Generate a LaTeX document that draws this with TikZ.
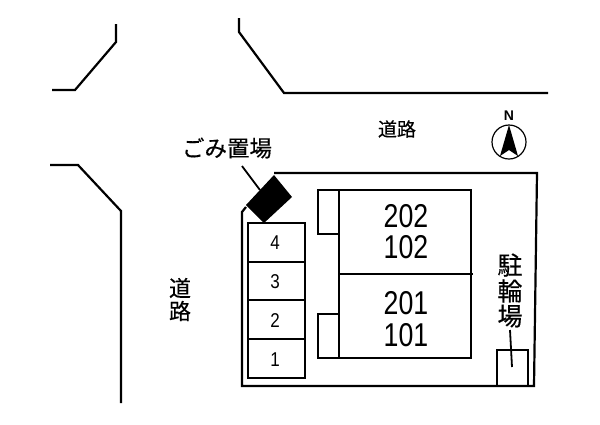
\documentclass[tikz,border=0pt]{standalone}
\usepackage{fontspec}
\setmainfont{Liberation Sans}
\newfontfamily\cjk[FakeBold=0.4]{Noto Sans CJK JP}
\tikzset{
  plan/.style={draw=black,line width=2.2pt,line join=miter},
  thin plan/.style={draw=black,line width=1.8pt},
  lab/.style={inner sep=0pt,text=black},
  unitlab/.style={lab,font=\fontsize{33}{33}\selectfont,xscale=0.81},
  parklab/.style={lab,font=\fontsize{20}{20}\selectfont,xscale=0.85},
  cjklab/.style={lab,font=\cjk\fontsize{#1}{#1}\selectfont},
}
\begin{document}
\begin{tikzpicture}[x=1pt,y=-1pt]
\useasboundingbox (0,0) rectangle (600,424);
% roads
\draw[plan] (116,24) -- (116,42) -- (75,90) -- (52,90);
\draw[plan] (239,18) -- (239,32) -- (284,93) -- (548,93);
\draw[plan] (50,165) -- (78,165) -- (121,211) -- (121,403);
% site boundary
\draw[plan] (246,207) -- (242,212) -- (242,386) -- (534,386) -- (537,173) -- (274,173);
% building
\draw[plan] (339,190) rectangle (471,358);
\draw[plan] (339,274) -- (473,274);
\draw[plan] (318,190) rectangle (339,234);
\draw[plan] (318,314) rectangle (339,358);
% parking
\draw[plan] (248,223) rectangle (305,378);
\draw[plan] (248,262) -- (305,262);
\draw[plan] (248,300) -- (305,300);
\draw[plan] (248,339) -- (305,339);
% bicycle parking
\draw[plan] (497,350) rectangle (528,386);
% refuse area
\fill[black] (274,175) -- (292,197) -- (264,223) -- (246,205) -- cycle;
% labels
\node[cjklab=22.5] (gomi) at (227,148) {ごみ置場};
\coordinate (gomiend) at (260,190);
\coordinate (gomistart) at (242,166);
\draw[thin plan] (gomistart) -- (gomiend);
\node[cjklab=19] (road1) at (397,129) {道路};
\node[cjklab=22] (road2a) at (180,288) {道};
\node[cjklab=22] (road2b) at (180,311) {路};
\node[cjklab=25] (bike1) at (510,265) {駐};
\node[cjklab=25] (bike2) at (510,291) {輪};
\node[cjklab=25] (bike3) at (510,316) {場};
\coordinate (bikestart) at (510,330);
\coordinate (bikeend) at (512,367);
\draw[thin plan] (bikestart) -- (bikeend);
\node[unitlab] (u202) at (406,216) {202};
\node[unitlab] (u102) at (406,247) {102};
\node[unitlab] (u201) at (406,303) {201};
\node[unitlab] (u101) at (406,335) {101};
\node[parklab] (p4) at (275,243) {4};
\node[parklab] (p3) at (275,282) {3};
\node[parklab] (p2) at (275,321) {2};
\node[parklab] (p1) at (275,360) {1};
% north mark
\node[lab,font=\bfseries\fontsize{14}{14}\selectfont] (north) at (509,116) {N};
\draw[draw=black,line width=1.2pt] (509,142) circle (17);
\fill[black] (509,125) -- (518,156) -- (509,150) -- (500,156) -- cycle;
\end{tikzpicture}
\end{document}
